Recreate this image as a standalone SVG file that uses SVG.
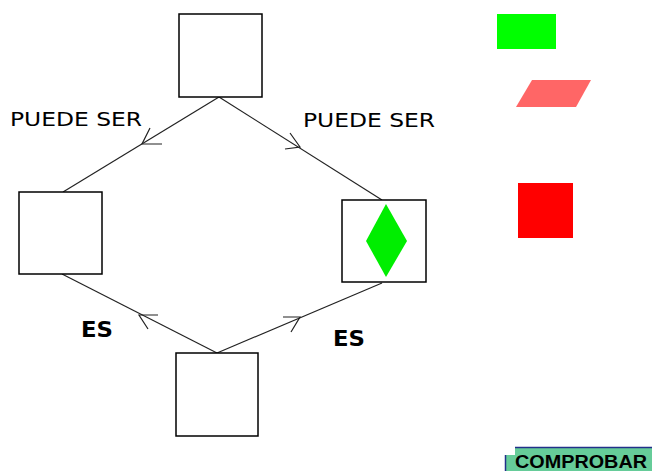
<svg xmlns="http://www.w3.org/2000/svg" width="652" height="471" viewBox="0 0 652 471">
<style>
.box{fill:#fff;stroke:#000;stroke-width:1.5}
.conn{stroke:#222;stroke-width:1.2;fill:none}
.arr{stroke:#222;stroke-width:1.2;fill:none}
.lbl{font-family:"DejaVu Sans",Verdana,sans-serif;font-size:19px;fill:#000}
.es{font-family:"DejaVu Sans","Liberation Sans",sans-serif;font-size:21px;font-weight:bold;fill:#000}
.btn{font-family:"Liberation Sans",Arial,sans-serif;font-size:18px;font-weight:bold;fill:#000}
</style>
<rect width="652" height="471" fill="#fff"/>
<g id="connectors">
<line class="conn" x1="219" y1="97" x2="63" y2="192"/>
<polyline class="arr" points="150,128 142,144 162,144"/>
<line class="conn" x1="219" y1="97" x2="382" y2="200"/>
<polyline class="arr" points="290,133 300,147 285,149"/>
<line class="conn" x1="62" y1="274" x2="217" y2="353"/>
<polyline class="arr" points="158,315 139,315 148,329"/>
<line class="conn" x1="217" y1="353" x2="382" y2="283"/>
<polyline class="arr" points="283,317 300,317 291,332"/>
</g>
<g id="label-puede-ser-left"><text class="lbl" x="10" y="126" textLength="132" lengthAdjust="spacingAndGlyphs">PUEDE SER</text></g>
<g id="label-puede-ser-right"><text class="lbl" x="303" y="127" textLength="132" lengthAdjust="spacingAndGlyphs">PUEDE SER</text></g>
<g id="label-es-left"><text class="es" x="81" y="337" textLength="32" lengthAdjust="spacingAndGlyphs">ES</text></g>
<g id="label-es-right"><text class="es" x="333" y="346" textLength="32" lengthAdjust="spacingAndGlyphs">ES</text></g>
<g id="node-top"><rect class="box" x="179" y="14" width="83" height="83"/></g>
<g id="node-left"><rect class="box" x="19" y="192" width="83" height="82"/></g>
<g id="node-right"><rect class="box" x="342" y="200" width="84" height="82"/>
<polygon points="386,204 407,241 386,277 366,241" fill="#00ee00"/></g>
<g id="node-bottom"><rect class="box" x="176" y="353" width="82" height="83"/></g>
<g id="palette-green"><rect x="497" y="14" width="59" height="35" fill="#00ff00"/></g>
<g id="palette-pink"><polygon points="532,80 591,80 576,107 516,107" fill="#ff6666"/></g>
<g id="palette-red"><rect x="518" y="183" width="55" height="55" fill="#ff0000"/></g>
<g id="button-comprobar">
<rect x="505" y="455" width="147" height="16" fill="#66cc99"/>
<rect x="515" y="447" width="137" height="24" fill="#66cc99"/>
<line x1="515" y1="447.5" x2="652" y2="447.5" stroke="#22308a" stroke-width="1.5"/>
<line x1="505.5" y1="455" x2="505.5" y2="471" stroke="#22308a" stroke-width="1.5"/>
<text class="btn" x="515" y="468" textLength="132" lengthAdjust="spacingAndGlyphs">COMPROBAR</text>
</g>
</svg>
